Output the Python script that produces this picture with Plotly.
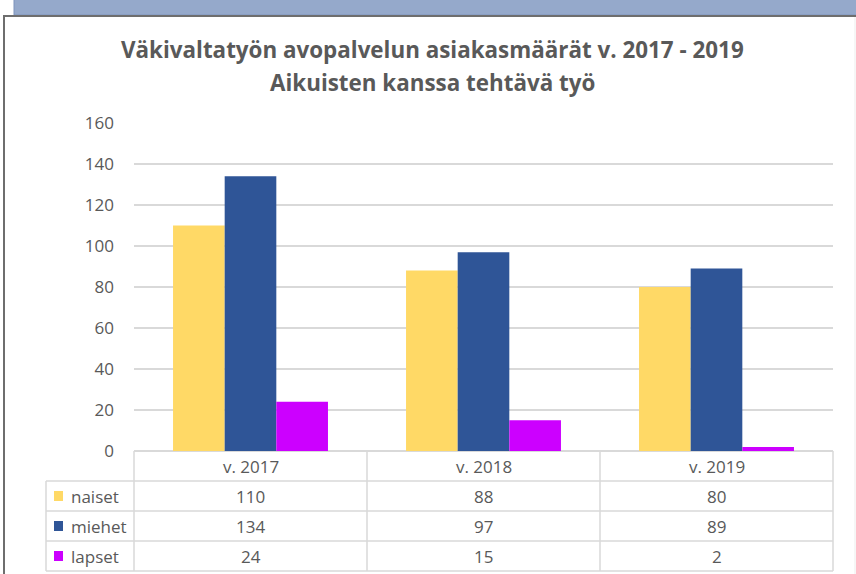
import plotly.graph_objects as go

categories = ["v. 2017", "v. 2018", "v. 2019"]
series_names = ["naiset", "miehet", "lapset"]
naiset = [110, 88, 80]
miehet = [134, 97, 89]
lapset = [24, 15, 2]
y_ticks = [0, 20, 40, 60, 80, 100, 120, 140, 160]
colors = ["#FFD966", "#2F5597", "#CC00FF"]
series_values = [naiset, miehet, lapset]

W, H = 856, 574
L, R, T, B = 134, 833, 123, 451  # plot area in px
FONT = "Open Sans"
TXT = "#595959"
GRID = "#D9D9D9"

fig = go.Figure()
for name, vals, col in zip(series_names, series_values, colors):
    fig.add_trace(go.Bar(x=categories, y=vals, name=name, marker=dict(color=col, line=dict(width=0)),
                         showlegend=False, hoverinfo="x+y+name"))

def px2x(px):
    return (px - L) / (R - L)

def px2y(py):
    return (B - py) / (B - T)

shapes = []
# outer frame: top band and border
shapes.append(dict(type="rect", xref="paper", yref="paper", x0=px2x(14), x1=px2x(W + 5), y0=px2y(15), y1=px2y(-5),
                   fillcolor="#95A9CB", line=dict(color="#7F94BC", width=1), layer="below"))
shapes.append(dict(type="line", xref="paper", yref="paper", x0=px2x(3), x1=px2x(W + 5), y0=px2y(16), y1=px2y(16),
                   line=dict(color="#6E6E6E", width=2)))
shapes.append(dict(type="line", xref="paper", yref="paper", x0=px2x(4), x1=px2x(4), y0=px2y(16), y1=px2y(H + 5),
                   line=dict(color="#6E6E6E", width=2)))
shapes.append(dict(type="line", xref="paper", yref="paper", x0=px2x(855), x1=px2x(855), y0=px2y(17), y1=px2y(H + 5),
                   line=dict(color="#EDEDED", width=1)))

# data table grid
row_h = 30
rows_y = [B, B + row_h, B + 2 * row_h, B + 3 * row_h, B + 4 * row_h]
col_x = [L + i * (R - L) / 3 for i in range(4)]
leg_x0 = 46
for i, yy in enumerate(rows_y[1:]):
    shapes.append(dict(type="line", xref="paper", yref="paper", x0=px2x(leg_x0), x1=px2x(R), y0=px2y(yy), y1=px2y(yy),
                       line=dict(color=GRID, width=1.5)))
for cx in col_x:
    shapes.append(dict(type="line", xref="paper", yref="paper", x0=px2x(cx), x1=px2x(cx), y0=px2y(B), y1=px2y(rows_y[-1]),
                       line=dict(color=GRID, width=1.5)))
shapes.append(dict(type="line", xref="paper", yref="paper", x0=px2x(leg_x0), x1=px2x(leg_x0), y0=px2y(rows_y[1]), y1=px2y(rows_y[-1]),
                   line=dict(color=GRID, width=1.5)))

annotations = []
# title
annotations.append(dict(text="<b>Väkivaltatyön avopalvelun asiakasmäärät v. 2017 - 2019</b>", xref="paper", yref="paper",
                        x=px2x(432), y=px2y(50), showarrow=False, xanchor="center", yanchor="middle",
                        font=dict(family=FONT, size=22.4, color=TXT)))
annotations.append(dict(text="<b>Aikuisten kanssa tehtävä työ</b>", xref="paper", yref="paper",
                        x=px2x(432), y=px2y(83), showarrow=False, xanchor="center", yanchor="middle",
                        font=dict(family=FONT, size=22.4, color=TXT)))
# header row
for i, c in enumerate(categories):
    annotations.append(dict(text=c, xref="paper", yref="paper", x=px2x((col_x[i] + col_x[i + 1]) / 2),
                            y=px2y(B + row_h / 2), showarrow=False, xanchor="center", yanchor="middle",
                            font=dict(family=FONT, size=17, color=TXT)))
# rows
for r, (name, vals, col) in enumerate(zip(series_names, series_values, colors)):
    cy = B + row_h * (r + 1) + row_h / 2
    shapes.append(dict(type="rect", xref="paper", yref="paper", x0=px2x(54), x1=px2x(63), y0=px2y(cy - 5), y1=px2y(cy + 5),
                       fillcolor=col, line=dict(width=0)))
    annotations.append(dict(text=name, xref="paper", yref="paper", x=px2x(69), y=px2y(cy), showarrow=False,
                            xanchor="left", yanchor="middle", font=dict(family=FONT, size=17, color=TXT)))
    for i, v in enumerate(vals):
        annotations.append(dict(text=str(v), xref="paper", yref="paper", x=px2x((col_x[i] + col_x[i + 1]) / 2),
                                y=px2y(cy), showarrow=False, xanchor="center", yanchor="middle",
                                font=dict(family=FONT, size=17, color=TXT)))

fig.update_layout(
    width=W, height=H,
    margin=dict(l=L, r=W - R, t=T, b=H - B, pad=0),
    paper_bgcolor="white", plot_bgcolor="white",
    barmode="group", bargap=0.335, bargroupgap=0,
    shapes=shapes, annotations=annotations,
    xaxis=dict(type="category", range=[-0.5, 2.5], showticklabels=False, showgrid=False, zeroline=False,
               showline=False, ticks=""),
    yaxis=dict(range=[0, 160], tickvals=y_ticks, showgrid=True, gridcolor=GRID, gridwidth=1.5,
               zeroline=True, zerolinecolor=GRID, zerolinewidth=1.5, showline=False,
               ticks="", ticklabelstandoff=19,
               tickfont=dict(family=FONT, size=17, color=TXT)),
)

fig.write_html("out.html", config={"displayModeBar": False},
               post_script="document.body.style.margin='0';document.body.style.overflow='hidden';")
